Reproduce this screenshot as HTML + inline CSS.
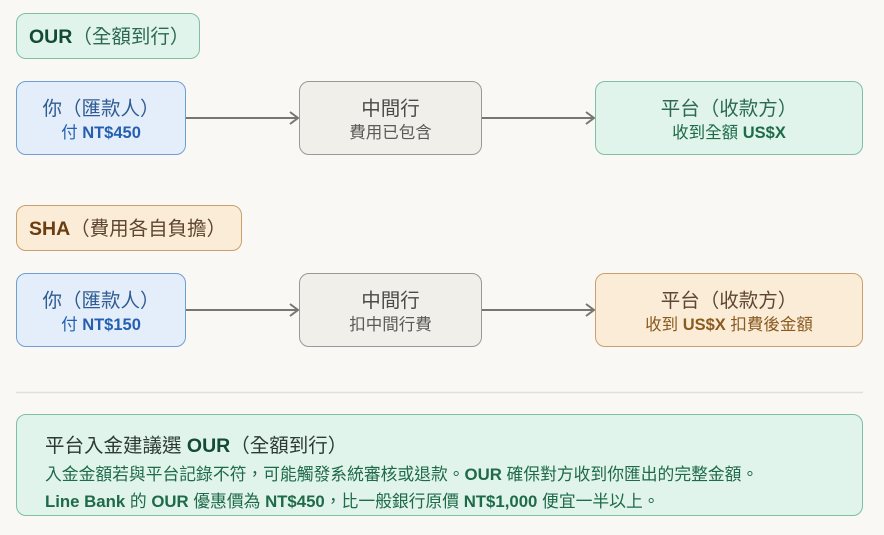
<!DOCTYPE html>
<html><head><meta charset="utf-8"><style>
body{margin:0;width:884px;height:535px;background:#faf8f4;position:relative;overflow:hidden;font-family:"Liberation Sans","Noto Sans CJK TC",sans-serif}
.b{position:absolute;box-sizing:border-box;border:1px solid;border-radius:10px;text-align:center}
.t{font-size:19.5px;line-height:24px}
.s{font-size:16.5px;line-height:20px;margin-top:2px}
.blue{background:#e4eefa;border-color:#6e9fd4;color:#2f5c94}
.blue .s{color:#2560b0}
.gray{background:#f0efe9;border-color:#9a9994;color:#4a4a48}
.gray .s{color:#5a5a58}
.green{background:#e0f4ec;border-color:#7fbfa6;color:#2b6a50}
.green .s{color:#1d6b47}
.org{background:#fbecd8;border-color:#c9a06c;color:#5e4630}
.org .s{color:#8a5a1e}
.pill{position:absolute;box-sizing:border-box;border:1px solid;border-radius:10px;font-size:19.5px;line-height:46px;padding-left:12px}
b{font-weight:bold}
</style></head><body>
<div class="pill" style="left:16px;top:13px;width:184px;height:46px;background:#e0f4ec;border-color:#7fbfa6;color:#2b6a50"><b style="color:#124a34">OUR</b>（全額到行）</div>

<div class="b blue" style="left:16px;top:81px;width:170px;height:74px;padding-top:15px"><div class="t">你（匯款人）</div><div class="s">付 <b>NT$450</b></div></div>
<div class="b gray" style="left:299px;top:81px;width:183px;height:74px;padding-top:15px"><div class="t">中間行</div><div class="s">費用已包含</div></div>
<div class="b green" style="left:595px;top:81px;width:268px;height:74px;padding-top:15px"><div class="t">平台（收款方）</div><div class="s">收到全額 <b>US$X</b></div></div>

<div class="pill" style="left:16px;top:205px;width:226px;height:46px;background:#fbecd8;border-color:#c9a06c;color:#5e4630"><b style="color:#6a3e10">SHA</b>（費用各自負擔）</div>

<div class="b blue" style="left:16px;top:273px;width:170px;height:74px;padding-top:15px"><div class="t">你（匯款人）</div><div class="s">付 <b>NT$150</b></div></div>
<div class="b gray" style="left:299px;top:273px;width:183px;height:74px;padding-top:15px"><div class="t">中間行</div><div class="s">扣中間行費</div></div>
<div class="b org" style="left:595px;top:273px;width:268px;height:74px;padding-top:15px"><div class="t">平台（收款方）</div><div class="s">收到 <b>US$X</b> 扣費後金額</div></div>

<svg style="position:absolute;left:0;top:0" width="884" height="535">
<g stroke="#77766f" stroke-width="2" fill="none">
<line x1="186" y1="118" x2="298" y2="118"/><polyline points="290,112 298,118 290,124"/>
<line x1="482" y1="118" x2="594" y2="118"/><polyline points="586,112 594,118 586,124"/>
<line x1="186" y1="310" x2="298" y2="310"/><polyline points="290,304 298,310 290,316"/>
<line x1="482" y1="310" x2="594" y2="310"/><polyline points="586,304 594,310 586,316"/>
</g>
<line x1="16" y1="392.5" x2="863" y2="392.5" stroke="#e2e0da" stroke-width="1.5"/>
</svg>

<div class="b" style="left:16px;top:414px;width:847px;height:102px;background:#e0f4ec;border-color:#7fbfa6;text-align:left;padding:18px 0 0 28px">
<div style="font-size:19.5px;line-height:26px;color:#2e3a34">平台入金建議選 <b style="color:#124a34">OUR</b>（全額到行）</div>
<div style="font-size:16.8px;line-height:27px;color:#1f6a48;margin-top:2px;white-space:nowrap">入金金額若與平台記錄不符，可能觸發系統審核或退款。<b>OUR</b> 確保對方收到你匯出的完整金額。</div>
<div style="font-size:16.8px;line-height:27px;color:#1f6a48;white-space:nowrap"><b>Line Bank</b> 的 <b>OUR</b> 優惠價為 <b>NT$450</b>，比一般銀行原價 <b>NT$1,000</b> 便宜一半以上。</div>
</div>
</body></html>
